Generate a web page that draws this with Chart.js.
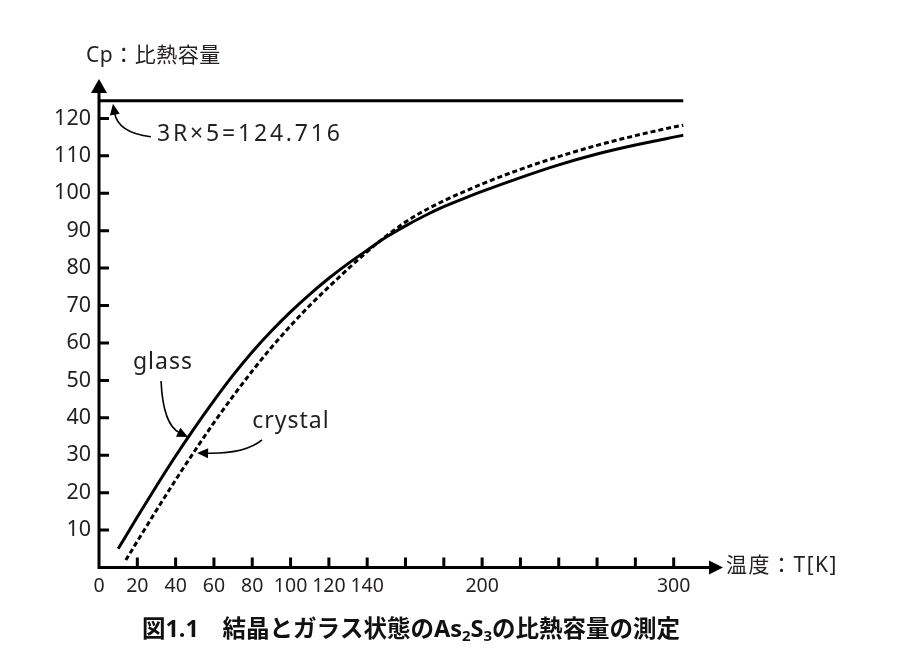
<!DOCTYPE html>
<html><head><meta charset="utf-8">
<script src="https://cdn.jsdelivr.net/npm/chart.js@4/dist/chart.umd.min.js"></script>
<style>html,body{margin:0;padding:0;background:#fff}#wrap{width:900px;height:667px;position:relative}</style>
</head><body><div id="wrap"><canvas id="c" width="900" height="667"></canvas></div>
<script>
// ---- data ----
const glassT  = [10, 20, 30, 40, 50, 60, 70, 80, 90, 100, 110, 120, 130, 140, 150, 160, 170, 180, 190, 200, 220, 240, 260, 280, 300, 305];
const glassCp = [5, 13.5, 21.8, 29.8, 37.4, 44.6, 51.4, 57.6, 63.2, 68.3, 73, 77.3, 81.2, 84.8, 88.3, 91.3, 94, 96.4, 98.5, 100.5, 104.2, 107.6, 110.5, 112.9, 115, 115.5];
const crystalT  = [14, 20, 30, 40, 50, 60, 70, 80, 90, 100, 110, 120, 130, 140, 150, 160, 170, 180, 190, 200, 220, 240, 260, 280, 300, 305];
const crystalCp = [2, 7, 15.3, 23.4, 31.2, 38.7, 45.8, 52.5, 58.8, 64.6, 70, 75, 79.8, 84.4, 88.6, 92.3, 95.4, 98, 100.3, 102.5, 106.4, 109.8, 112.8, 115.4, 117.7, 118.2];
const limitT  = [0, 305];
const limitCp = [124.716, 124.716];
const xTickValues = [0, 20, 40, 60, 80, 100, 120, 140, 160, 180, 200, 220, 240, 260, 280, 300];
const xTickLabels = ['0', '20', '40', '60', '80', '100', '120', '140', '', '', '200', '', '', '', '', '300'];
const yTickValues = [10, 20, 30, 40, 50, 60, 70, 80, 90, 100, 110, 120];
const yTickLabels = ['10', '20', '30', '40', '50', '60', '70', '80', '90', '100', '110', '120'];
const yTitle = 'Cp：比熱容量';
const xTitle = '温度：T[K]';
const limitText = '3R×5=124.716';
const glassText = 'glass';
const crystalText = 'crystal';
const captionParts = [['図1.1　結晶とガラス状態のAs', 0], ['2', 1], ['S', 0], ['3', 1], ['の比熱容量の測定', 0]];
// annotation anchors in data coordinates [T, Cp]
const limitArrow = { text: [30.3, 115.6], start: [27.1, 115.1], ctrl: [9.9, 116.1], tip: [7.3, 123.9] };
const glassArrow = { text: [33.4, 54.9], start: [32.4, 49.8], ctrl: [33.4, 38.1], tip: [46.5, 34.9] };
const crystalArrow = { text: [100.2, 38.9], start: [85.1, 34.1], ctrl: [76.2, 30.3], tip: [51.2, 30.6] };

const FONT = '"Noto Sans", "Noto Sans CJK JP", sans-serif';
const TXT = '#231f20';

function pts(xs, ys) { return xs.map((x, i) => ({ x: x, y: ys[i] })); }

function arrowHead(ctx, x, y, ang, len, half) {
  ctx.beginPath();
  ctx.moveTo(x, y);
  ctx.lineTo(x - len * Math.cos(ang) + half * Math.sin(ang), y - len * Math.sin(ang) - half * Math.cos(ang));
  ctx.lineTo(x - len * Math.cos(ang) - half * Math.sin(ang), y - len * Math.sin(ang) + half * Math.cos(ang));
  ctx.closePath();
  ctx.fill();
}

const decor = {
  id: 'decor',
  afterDraw(chart) {
    const ctx = chart.ctx, xs = chart.scales.x, ys = chart.scales.y, ca = chart.chartArea;
    const P = (d) => [xs.getPixelForValue(d[0]), ys.getPixelForValue(d[1])];
    ctx.save();
    ctx.fillStyle = '#000'; ctx.strokeStyle = '#000';
    // axes
    ctx.lineWidth = 3;
    ctx.beginPath();
    ctx.moveTo(ca.left, ca.bottom + 1.5); ctx.lineTo(ca.left, ca.top + 8);
    ctx.moveTo(ca.left - 1.5, ca.bottom); ctx.lineTo(ca.right, ca.bottom);
    ctx.stroke();
    arrowHead(ctx, ca.left, ca.top - 2, -Math.PI / 2, 14, 8);
    arrowHead(ctx, ca.right + 11, ca.bottom, 0, 14, 7);
    // tick marks (inside)
    ctx.lineWidth = 3;
    ctx.beginPath();
    xTickValues.forEach(v => { if (v > 0) { const x = xs.getPixelForValue(v); ctx.moveTo(x, ca.bottom); ctx.lineTo(x, ca.bottom - 10); } });
    yTickValues.forEach(v => { const y = ys.getPixelForValue(v); ctx.moveTo(ca.left, y); ctx.lineTo(ca.left + 10, y); });
    ctx.stroke();
    // annotation arrows
    ctx.lineWidth = 1.6;
    [limitArrow, glassArrow, crystalArrow].forEach(a => {
      const s = P(a.start), c = P(a.ctrl), t = P(a.tip);
      const ang = Math.atan2(t[1] - c[1], t[0] - c[0]);
      const ex = t[0] - 9 * Math.cos(ang), ey = t[1] - 9 * Math.sin(ang);
      ctx.beginPath(); ctx.moveTo(s[0], s[1]); ctx.quadraticCurveTo(c[0], c[1], ex, ey); ctx.stroke();
      arrowHead(ctx, t[0], t[1], ang, 11, 5);
    });
    // annotation texts
    ctx.fillStyle = TXT;
    ctx.textBaseline = 'middle';
    ctx.font = '23px ' + FONT;
    ctx.letterSpacing = '2.8px';
    let p = P(limitArrow.text); ctx.textAlign = 'left'; ctx.fillText(limitText, p[0], p[1]);
    ctx.letterSpacing = '1px';
    p = P(glassArrow.text); ctx.textAlign = 'center'; ctx.fillText(glassText, p[0], p[1]);
    p = P(crystalArrow.text); ctx.fillText(crystalText, p[0], p[1]);
    // axis titles
    ctx.font = '21px ' + FONT;
    ctx.textAlign = 'left';
    ctx.letterSpacing = '0.5px';
    ctx.fillText(yTitle, ca.left - 13, ca.top - 25);
    ctx.letterSpacing = '1.5px';
    ctx.fillText(xTitle, ca.right + 14, ca.bottom - 1);
    ctx.letterSpacing = '0px';
    // caption
    const bigF = 'bold 23.5px ' + FONT, subF = 'bold 15px ' + FONT;
    let total = 0;
    captionParts.forEach(([t, sub]) => { ctx.font = sub ? subF : bigF; total += ctx.measureText(t).width; });
    let x = 411 - total / 2; const cy = 630;
    ctx.textAlign = 'left'; ctx.fillStyle = '#111';
    captionParts.forEach(([t, sub]) => {
      ctx.font = sub ? subF : bigF;
      ctx.fillText(t, x, sub ? cy + 7 : cy);
      x += ctx.measureText(t).width;
    });
    ctx.restore();
  }
};

new Chart(document.getElementById('c'), {
  type: 'line',
  data: {
    datasets: [
      { label: 'glass', data: pts(glassT, glassCp), borderColor: '#000', borderWidth: 3, pointRadius: 0, cubicInterpolationMode: 'monotone', fill: false },
      { label: 'crystal', data: pts(crystalT, crystalCp), borderColor: '#000', borderWidth: 3, borderDash: [5, 3], pointRadius: 0, cubicInterpolationMode: 'monotone', fill: false },
      { label: '3R×5', data: pts(limitT, limitCp), borderColor: '#000', borderWidth: 3, pointRadius: 0, fill: false }
    ]
  },
  options: {
    responsive: false, animation: false, devicePixelRatio: 1,
    layout: { padding: { left: 0, top: 81, right: 188, bottom: 0 } },
    plugins: { legend: { display: false }, tooltip: { enabled: false } },
    scales: {
      x: {
        type: 'linear', min: 0, max: 320,
        afterBuildTicks: s => { s.ticks = xTickValues.map(v => ({ value: v })); },
        afterFit: s => { s.height = 99.5; },
        ticks: { autoSkip: false, maxRotation: 0, padding: 7, color: TXT, font: { family: FONT, size: 19.5 },
          callback: (v) => { const i = xTickValues.indexOf(v); return i >= 0 ? xTickLabels[i] : ''; } },
        grid: { display: false, drawTicks: false }, border: { display: false }
      },
      y: {
        type: 'linear', min: 0, max: 130,
        afterBuildTicks: s => { s.ticks = yTickValues.map(v => ({ value: v })); },
        afterFit: s => { s.width = 99; },
        ticks: { autoSkip: false, padding: 8, color: TXT, font: { family: FONT, size: 21.5 },
          callback: (v) => { const i = yTickValues.indexOf(v); return i >= 0 ? yTickLabels[i] : ''; } },
        grid: { display: false, drawTicks: false }, border: { display: false }
      }
    }
  },
  plugins: [decor]
});
</script></body></html>
